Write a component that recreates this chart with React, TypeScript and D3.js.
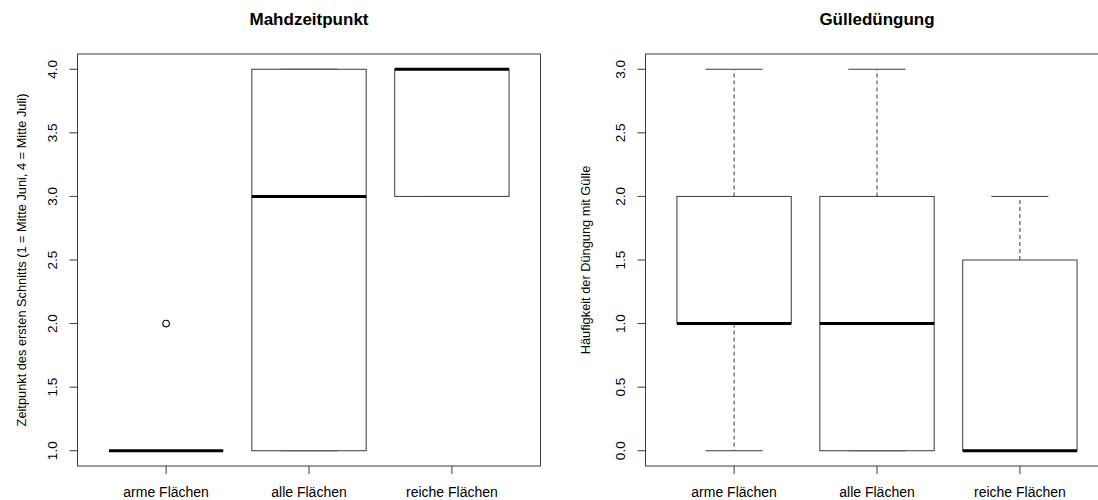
import React from "react";
import * as d3 from "d3";

const categories = ["arme Flächen", "alle Flächen", "reiche Flächen"];

// Mahdzeitpunkt
const mahdLow = [1, 1, 3];
const mahdQ1 = [1, 1, 3];
const mahdMedian = [1, 3, 4];
const mahdQ3 = [1, 4, 4];
const mahdHigh = [1, 4, 4];
const mahdOutliers = [[2], [], []];
const mahdTicks = [1.0, 1.5, 2.0, 2.5, 3.0, 3.5, 4.0];

// Gülledüngung
const guelleLow = [0, 0, 0];
const guelleQ1 = [1, 0, 0];
const guelleMedian = [1, 1, 0];
const guelleQ3 = [2, 2, 1.5];
const guelleHigh = [3, 3, 2];
const guelleOutliers = [[], [], []];
const guelleTicks = [0.0, 0.5, 1.0, 1.5, 2.0, 2.5, 3.0];

const FONT = "'Liberation Sans', Arial, Helvetica, sans-serif";
const FS = 14;
const LINE = "#3a3a3a";

type PanelProps = {
  left: number;
  title: string;
  ylabel: string;
  low: number[];
  q1: number[];
  med: number[];
  q3: number[];
  high: number[];
  outliers: number[][];
  ticks: number[];
  labelX: number;
};

function Panel(p: PanelProps) {
  const top = 54;
  const bottom = 466;
  const width = 463;
  const ymin = d3.min(p.ticks)!;
  const ymax = d3.max(p.ticks)!;
  const pad = (ymax - ymin) * 0.04;
  const y = d3.scaleLinear().domain([ymin - pad, ymax + pad]).range([bottom, top]);
  const n = categories.length;
  const xpad = n * 0.04;
  const x = d3.scaleLinear().domain([0.5 - xpad, n + 0.5 + xpad]).range([p.left, p.left + width]);
  const bw = x(0.8) - x(0);
  const cap = bw / 4;
  const cy = (top + bottom) / 2;
  const cxTitle = p.left + width / 2;

  return (
    <g>
      <text x={cxTitle} y={25} textAnchor="middle" fontFamily={FONT} fontWeight="bold" fontSize={17}>
        {p.title}
      </text>
      {categories.map((c, i) => {
        const cx = x(i + 1);
        return (
          <g key={c}>
            {p.high[i] > p.q3[i] && (
              <line x1={cx} x2={cx} y1={y(p.q3[i])} y2={y(p.high[i])} stroke={LINE} strokeDasharray="4,3" />
            )}
            {p.low[i] < p.q1[i] && (
              <line x1={cx} x2={cx} y1={y(p.q1[i])} y2={y(p.low[i])} stroke={LINE} strokeDasharray="4,3" />
            )}
            <line x1={cx - cap} x2={cx + cap} y1={y(p.high[i])} y2={y(p.high[i])} stroke={LINE} />
            <line x1={cx - cap} x2={cx + cap} y1={y(p.low[i])} y2={y(p.low[i])} stroke={LINE} />
            <rect
              x={cx - bw / 2}
              y={y(p.q3[i])}
              width={bw}
              height={Math.max(0, y(p.q1[i]) - y(p.q3[i]))}
              fill="white"
              stroke={LINE}
            />
            <line
              x1={cx - bw / 2}
              x2={cx + bw / 2}
              y1={y(p.med[i])}
              y2={y(p.med[i])}
              stroke="#000"
              strokeWidth={3}
            />
            {p.outliers[i].map((v, j) => (
              <circle key={j} cx={cx} cy={y(v)} r={3.3} fill="none" stroke="#000" strokeWidth={1.1} />
            ))}
          </g>
        );
      })}
      <rect x={p.left} y={top} width={width} height={bottom - top} fill="none" stroke={LINE} />
      {p.ticks.map((t) => (
        <g key={t}>
          <line x1={p.left - 8} x2={p.left} y1={y(t)} y2={y(t)} stroke={LINE} />
          <text
            transform={`translate(${p.left - 20.5},${y(t)}) rotate(-90)`}
            textAnchor="middle"
            fontFamily={FONT}
            fontSize={13.5}
          >
            {t.toFixed(1)}
          </text>
        </g>
      ))}
      {categories.map((c, i) => (
        <g key={c}>
          <line x1={x(i + 1)} x2={x(i + 1)} y1={bottom} y2={bottom + 8} stroke={LINE} />
          <text x={x(i + 1)} y={497} textAnchor="middle" fontFamily={FONT} fontSize={FS}>
            {c}
          </text>
        </g>
      ))}
      <text
        transform={`translate(${p.labelX},${cy}) rotate(-90)`}
        textAnchor="middle"
        fontFamily={FONT}
        fontSize={12.8}
      >
        {p.ylabel}
      </text>
    </g>
  );
}

export default function App() {
  return (
    <svg
      width={1098}
      height={500}
      style={{ position: "absolute", left: 0, top: 0, background: "white" }}
    >
      <rect x={0} y={0} width={1098} height={500} fill="white" />
      <Panel
        left={77.5}
        title="Mahdzeitpunkt"
        ylabel="Zeitpunkt des ersten Schnitts (1 = Mitte Juni, 4 = Mitte Juli)"
        low={mahdLow}
        q1={mahdQ1}
        med={mahdMedian}
        q3={mahdQ3}
        high={mahdHigh}
        outliers={mahdOutliers}
        ticks={mahdTicks}
        labelX={26}
      />
      <Panel
        left={645.5}
        title="Gülledüngung"
        ylabel="Häufigkeit der Düngung mit Gülle"
        low={guelleLow}
        q1={guelleQ1}
        med={guelleMedian}
        q3={guelleQ3}
        high={guelleHigh}
        outliers={guelleOutliers}
        ticks={guelleTicks}
        labelX={590}
      />
    </svg>
  );
}
